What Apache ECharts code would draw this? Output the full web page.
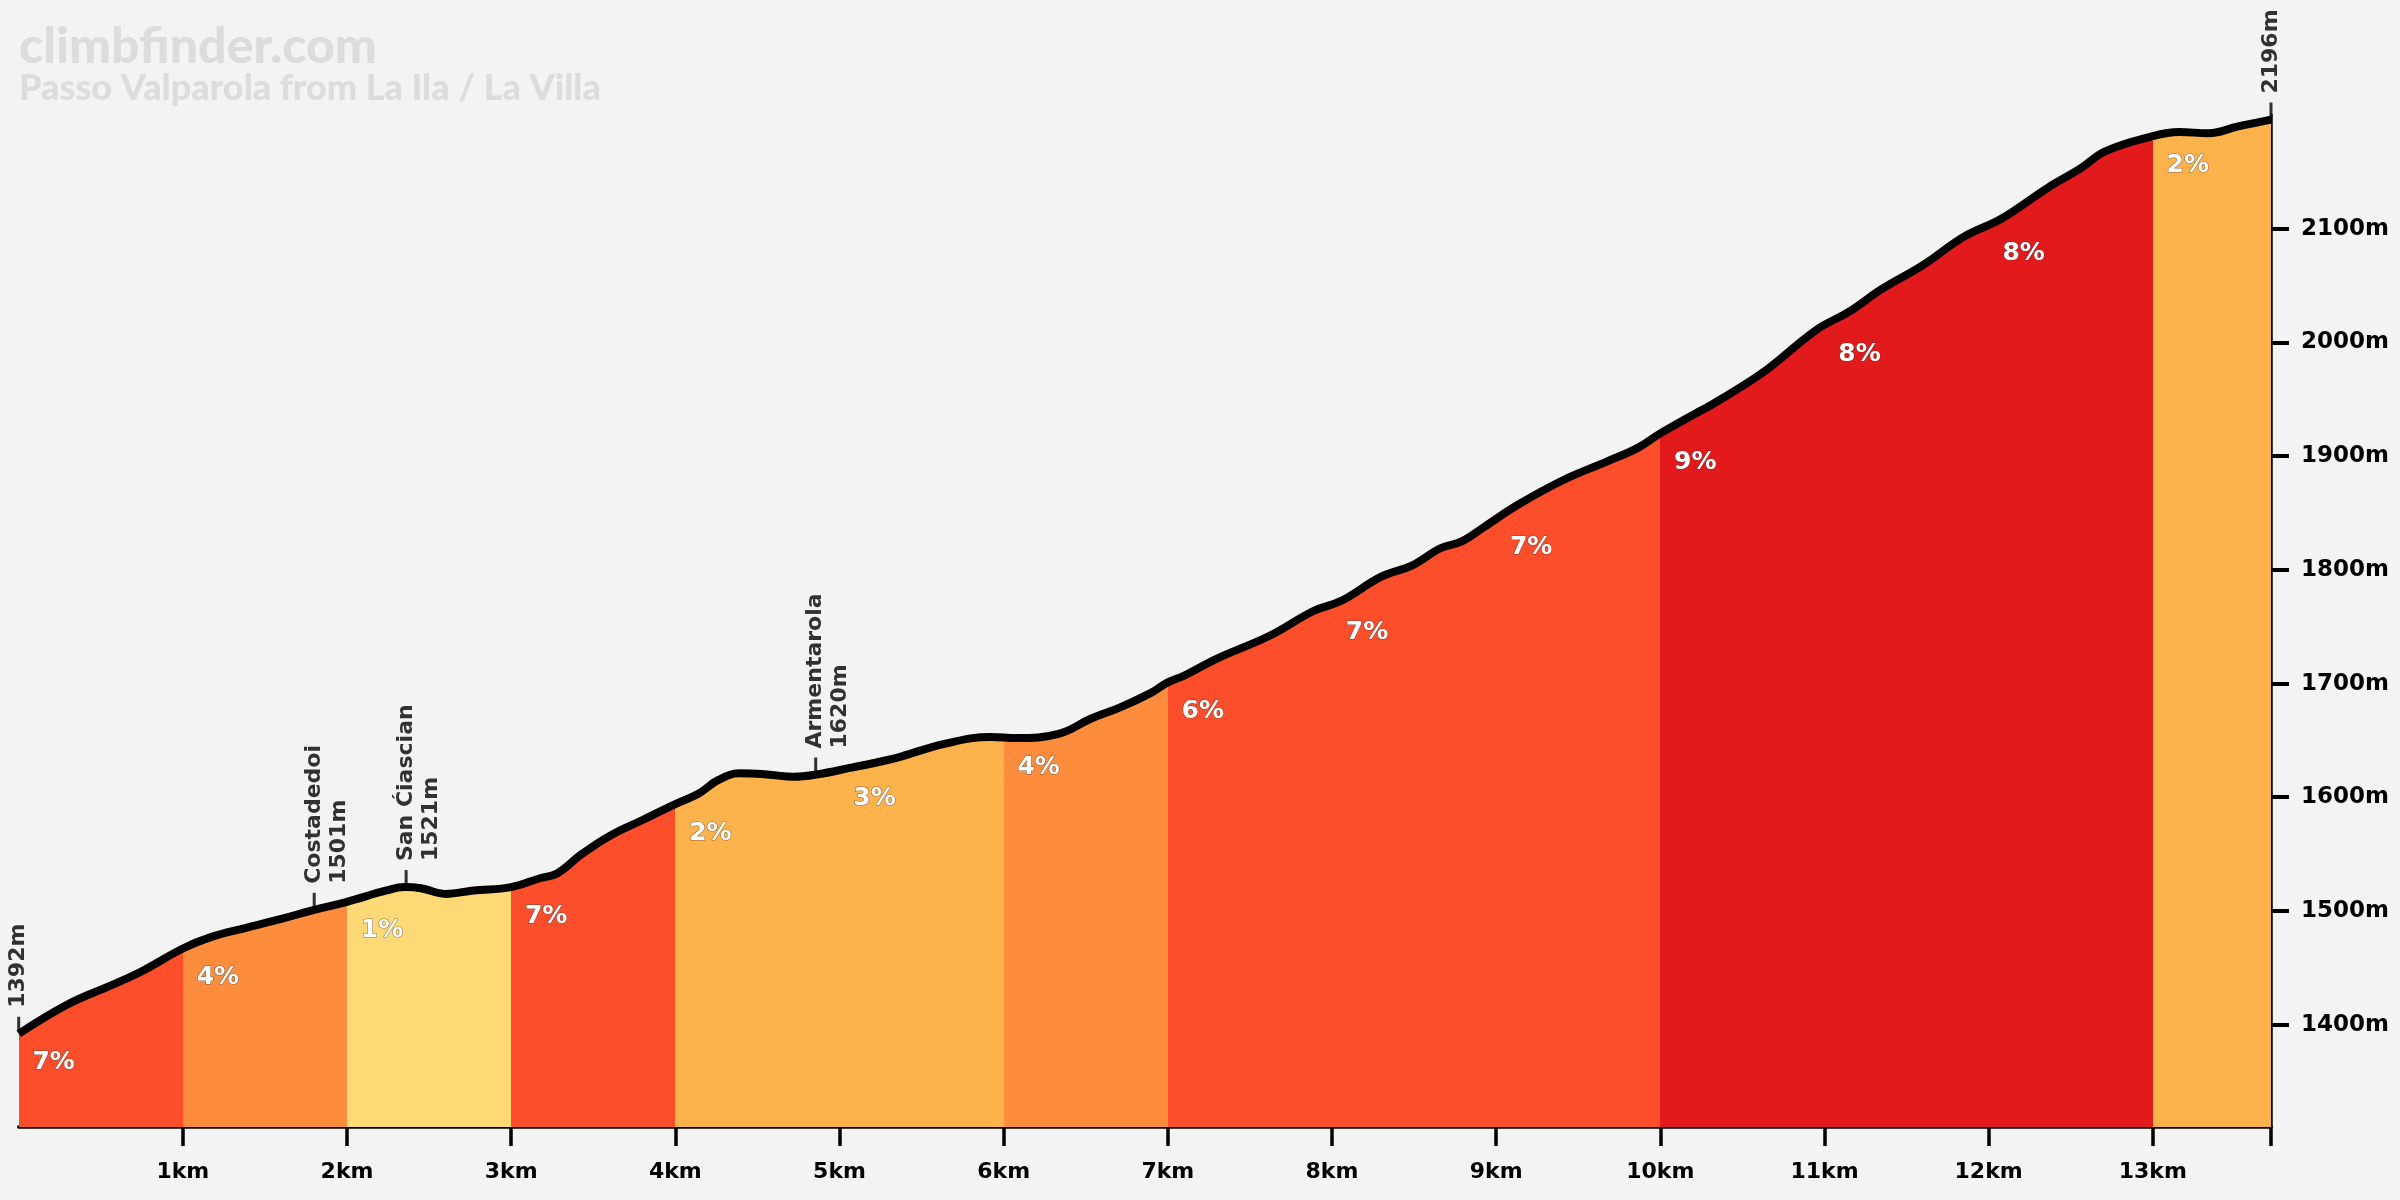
<!DOCTYPE html>
<html>
<head>
<meta charset="utf-8">
<script src="https://cdn.jsdelivr.net/npm/echarts@6/dist/echarts.min.js"></script>
<style>
  html, body { margin: 0; padding: 0; background: #f3f3f3; }
  #chart { width: 2400px; height: 1200px; }
</style>
</head>
<body>
<div id="chart"></div>
<script>
// profile: distance (km) / elevation (m)
var distKm = [0, 0.3, 0.57, 0.75, 1.0, 1.17, 1.38, 1.6, 1.8, 2.0, 2.24, 2.35, 2.45, 2.6, 2.77, 3.0,
  3.18, 3.28, 3.43, 3.6, 3.8, 4.0, 4.14, 4.26, 4.39, 4.56, 4.72, 4.86, 5.07, 5.3, 5.38, 5.64, 5.92,
  6.08, 6.34, 6.53, 6.71, 6.9, 7.0, 7.1, 7.3, 7.62, 7.89, 8.06, 8.3, 8.49, 8.66, 8.79, 8.92, 9.13,
  9.41, 9.67, 9.86, 10.0, 10.22, 10.31, 10.62, 10.95, 11.15, 11.35, 11.6, 11.85, 12.08, 12.36,
  12.56, 12.71, 12.99, 13.16, 13.34, 13.52, 13.72];
var elevM = [1392, 1418, 1435, 1447, 1467, 1477, 1485, 1493, 1501, 1508, 1518, 1521, 1520, 1515, 1518, 1521,
  1529, 1533, 1550, 1566, 1580, 1594, 1603, 1615, 1621, 1620, 1618, 1620, 1626, 1633, 1636, 1647, 1653,
  1652, 1656, 1669, 1679, 1692, 1701, 1707, 1722, 1742, 1764, 1773, 1794, 1804, 1819, 1825, 1837, 1857,
  1879, 1895, 1907, 1920, 1938, 1945, 1973, 2011, 2027, 2047, 2068, 2093, 2109, 2136,
  2153, 2168, 2181, 2185, 2184, 2190, 2196];

// gradient sections
var gradeStart = [0, 1, 2, 3, 4, 5, 6, 7, 8, 9, 10, 11, 12, 13];
var gradeEnd = [1, 2, 3, 4, 5, 6, 7, 8, 9, 10, 11, 12, 13, 13.72];
var gradePct = [7, 4, 1, 7, 2, 3, 4, 6, 7, 7, 9, 8, 8, 2];
var gradeElev = [1392, 1467, 1508, 1521, 1594, 1624, 1652, 1701, 1770, 1845, 1920, 2015, 2104, 2181];

// places
var poiKm = [0, 1.8, 2.36, 4.855, 13.72];
var poiElev = [1392, 1501, 1521, 1620, 2196];
var poiName = ['', 'Costadedoi', 'San Ćiascian', 'Armentarola', ''];

var kmTicks = [1, 2, 3, 4, 5, 6, 7, 8, 9, 10, 11, 12, 13];
var elevTicks = [1400, 1500, 1600, 1700, 1800, 1900, 2000, 2100];

var FONT = 'DejaVu Sans';

function gradeColor(g) {
  if (g <= 1) return '#fed976';
  if (g <= 3) return '#feb24c';
  if (g <= 4) return '#fd8d3c';
  if (g <= 7) return '#fc4e2a';
  return '#e31a1c';
}

var profile = distKm.map(function (d, i) { return [d, elevM[i]]; });

var pieces = gradeStart.map(function (s, i) {
  var p = { gte: s, color: gradeColor(gradePct[i]) };
  if (i === gradeStart.length - 1) p.lte = gradeEnd[i]; else p.lt = gradeEnd[i];
  return p;
});

var gradeData = gradeStart.map(function (s, i) {
  return { value: [s, gradeElev[i]], pct: gradePct[i] };
});

var LH = 25;
var poiData = poiKm.map(function (k, i) {
  var txt = poiName[i] ? poiName[i] + '\n' + poiElev[i] + 'm' : poiElev[i] + 'm';
  return {
    value: [k, poiElev[i]],
    label: { formatter: txt, offset: [0, poiName[i] ? LH / 2 : 0] }
  };
});

var myChart = echarts.init(document.getElementById('chart'));
var option = {
  backgroundColor: '#f3f3f3',
  animation: false,
  title: {
    text: 'climbfinder.com',
    subtext: 'Passo Valparola from La Ila / La Villa',
    left: 14,
    top: 17,
    itemGap: -2,
    textStyle: { color: '#dcdcdc', fontFamily: 'Lato', fontWeight: 900, fontSize: 50 },
    subtextStyle: { color: '#dcdcdc', fontFamily: 'Lato', fontWeight: 900, fontSize: 36 }
  },
  grid: { left: 18.7, right: 129, top: 115, bottom: 73 },
  visualMap: {
    show: false,
    type: 'piecewise',
    dimension: 0,
    seriesIndex: 0,
    pieces: pieces
  },
  xAxis: {
    type: 'value',
    min: 0,
    max: 13.72,
    splitLine: { show: false },
    axisLine: { show: true, onZero: false, lineStyle: { color: '#000', width: 3.5 } },
    axisTick: {
      show: true,
      customValues: kmTicks.concat([13.72]),
      length: 19,
      lineStyle: { color: '#000', width: 3.5 }
    },
    axisLabel: {
      customValues: kmTicks,
      formatter: function (v) { return v + 'km'; },
      margin: 34,
      color: '#000',
      fontFamily: FONT,
      fontWeight: 'bold',
      fontSize: 22
    }
  },
  yAxis: {
    type: 'value',
    position: 'right',
    min: 1310,
    max: 2200,
    splitLine: { show: false },
    axisLine: { show: true, onZero: false, lineStyle: { color: '#000', width: 2.5 } },
    axisTick: {
      show: true,
      customValues: elevTicks,
      length: 18,
      lineStyle: { color: '#000', width: 4 }
    },
    axisLabel: {
      customValues: elevTicks,
      formatter: function (v) { return v + 'm'; },
      margin: 30,
      color: '#000',
      fontFamily: FONT,
      fontWeight: 'bold',
      fontSize: 23
    }
  },
  series: [
    {
      // coloured area
      type: 'line',
      data: profile,
      smooth: 0.4,
      symbol: 'none',
      lineStyle: { width: 0 },
      areaStyle: { opacity: 1, origin: 'start' },
      z: 1
    },
    {
      // profile line
      type: 'line',
      data: profile,
      smooth: 0.4,
      symbol: 'none',
      lineStyle: { color: '#000', width: 8 },
      z: 3
    },
    {
      // gradient labels
      type: 'scatter',
      data: gradeData,
      symbolSize: 1,
      itemStyle: { color: 'transparent' },
      clip: false,
      z: 4,
      emphasis: { disabled: true },
      label: {
        show: true,
        position: 'inside',
        offset: [35, 29],
        formatter: function (p) { return p.data.pct + '%'; },
        color: '#ffffff',
        opacity: 1,
        fontFamily: FONT,
        fontWeight: 'bold',
        fontSize: 25,
        textBorderColor: 'rgba(70,50,50,0.6)',
        textBorderWidth: 1.2
      }
    },
    {
      // places
      type: 'scatter',
      data: poiData,
      symbol: 'rect',
      symbolSize: [3, 14],
      symbolOffset: [0, -10],
      itemStyle: { color: '#000' },
      clip: false,
      z: 5,
      emphasis: { disabled: true },
      label: {
        show: true,
        position: 'top',
        distance: 9,
        rotate: 90,
        align: 'left',
        verticalAlign: 'middle',
        lineHeight: LH,
        color: '#000',
        fontFamily: FONT,
        fontWeight: 'bold',
        fontSize: 22
      }
    }
  ]
};
myChart.setOption(option);
</script>
</body>
</html>
